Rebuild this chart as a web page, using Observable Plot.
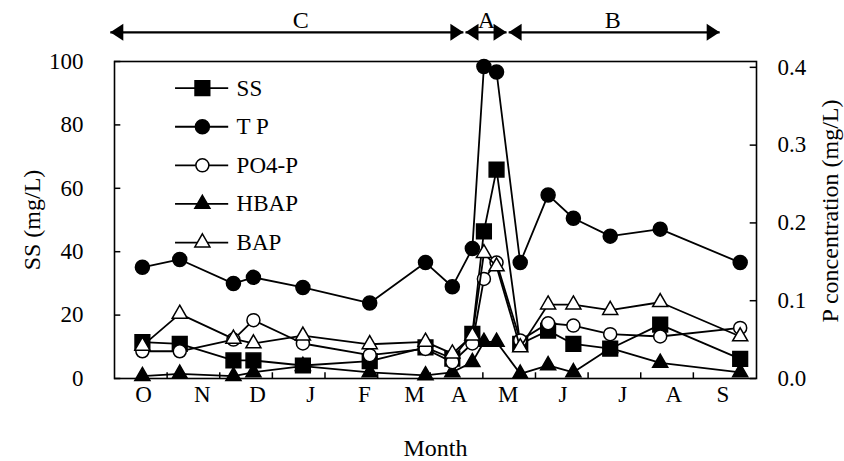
<!DOCTYPE html>
<html>
<head>
<meta charset="utf-8">
<script src="https://cdn.jsdelivr.net/npm/d3@7"></script>
<script src="https://cdn.jsdelivr.net/npm/@observablehq/plot@0.6"></script>
<style>
  html, body { margin: 0; padding: 0; background: #fff; }
  svg { display: block; overflow: visible; }
  svg text { font-family: "Liberation Serif", "Times New Roman", serif !important; }
</style>
</head>
<body>
<div id="chart"></div>
<script>
// ---- data ----
// x positions are in "months since start of October"
const monthLabels = ["O","N","D","J","F","M","A","M","J","J","A","S"];
const monthLabelPos = [0.55,1.67,2.72,3.73,4.75,5.70,6.55,7.48,8.52,9.66,10.63,11.56];
const monthTicks = [1,2,3,4,5,6,7,8,9,10,11];
const ssTicks = [0,20,40,60,80,100];
const pTicks = [0,0.1,0.2,0.3,0.4];

const sampleT = [0.53,1.24,2.26,2.64,3.58,4.85,5.91,6.42,6.80,7.02,7.26,7.71,8.24,8.72,9.42,10.37,11.89];
const ssVals   = [11.5,10.9,5.7,5.7,4.1,5.5,9.8,6.3,14.1,46.4,65.9,10.9,15.1,10.9,9.4,17.0,6.2];
const tpVals   = [0.143,0.153,0.122,0.130,0.117,0.097,0.149,0.118,0.167,0.401,0.394,0.149,0.236,0.206,0.183,0.192,0.149];
const po4Vals  = [0.035,0.035,0.050,0.075,0.045,0.030,0.038,0.021,0.045,0.128,0.149,0.049,0.071,0.068,0.057,0.054,0.065];
const hbapVals = [0.003,0.006,0.003,0.008,0.016,0.008,0.004,0.008,0.021,0.047,0.047,0.006,0.017,0.008,0.039,0.020,0.008];
const bapVals  = [0.042,0.083,0.051,0.045,0.055,0.044,0.047,0.032,0.055,0.161,0.144,0.040,0.095,0.095,0.088,0.098,0.054];

const periodLabels = ["C","A","B"];
const periodStart  = [-0.08, 6.67, 7.49];
const periodEnd    = [6.63, 7.45, 11.5];
const periodLabelAt = [3.54, 7.07, 9.47];

const seriesNames = ["SS","T P","PO4-P","HBAP","BAP"];

// ---- helpers ----
const K = 245.4; // P concentration (mg/L) -> SS axis units (right axis scale)
const FONT = "Liberation Serif";

const rows = sampleT.map((t, i) => ({
  t,
  SS: ssVals[i],
  TP: tpVals[i] * K,
  PO4: po4Vals[i] * K,
  HBAP: hbapVals[i] * K,
  BAP: bapVals[i] * K
}));

const styleOf = {
  "SS":    {key: "SS",   symbol: "square",   fill: "black", r: 8.3},
  "T P":   {key: "TP",   symbol: "circle",   fill: "black", r: 7},
  "PO4-P": {key: "PO4",  symbol: "circle",   fill: "white", r: 6.5},
  "HBAP":  {key: "HBAP", symbol: "triangle", fill: "black", r: 5.6},
  "BAP":   {key: "BAP",  symbol: "triangle", fill: "white", r: 5.6}
};
const drawOrder = ["HBAP","SS","T P","PO4-P","BAP"];

const periods = periodLabels.map((label, i) => ({
  label, start: periodStart[i], end: periodEnd[i], at: periodLabelAt[i]
}));

const leftHead = {draw(ctx) { ctx.moveTo(0,0); ctx.lineTo(13,-8.5); ctx.lineTo(13,8.5); ctx.closePath(); }};
const rightHead = {draw(ctx) { ctx.moveTo(0,0); ctx.lineTo(-13,-8.5); ctx.lineTo(-13,8.5); ctx.closePath(); }};

const ARROW_Y = 109.2;   // in SS units, above the frame
const legend = seriesNames.map((name, i) => ({name, y: 91.6 - i * 12.18}));
const LEG_X1 = 1.16, LEG_X2 = 2.17, LEG_M = 1.67, LEG_T = 2.32;

const labelByPos = new Map(monthLabelPos.map((p, i) => [p, monthLabels[i]]));

const marks = [
  Plot.frame({stroke: "black", strokeWidth: 1.6}),
  // inward ticks
  Plot.ruleY(ssTicks, {y: d => d, x1: 0, x2: 0.12, stroke: "black", strokeWidth: 1.5}),
  Plot.ruleY(pTicks, {y: d => d * K, x1: 12.08, x2: 12.2, stroke: "black", strokeWidth: 1.5}),
  Plot.ruleX(monthTicks, {x: d => d, y1: 0, y2: 1.8, stroke: "black", strokeWidth: 1.5}),
  // axes labels
  Plot.axisY({anchor: "left", ticks: ssTicks, tickSize: 0, tickPadding: 31, label: null,
              fontSize: 23, fontFamily: FONT, fontVariant: "normal"}),
  Plot.axisY({anchor: "right", ticks: pTicks.map(p => p * K), tickFormat: d => (d / K).toFixed(1),
              tickSize: 0, tickPadding: 21, label: null, fontSize: 23, fontFamily: FONT, fontVariant: "normal"}),
  Plot.axisX({anchor: "bottom", ticks: monthLabelPos, tickFormat: d => labelByPos.get(d),
              tickSize: 0, tickPadding: 7, label: null, fontSize: 23, fontFamily: FONT}),
  Plot.text(["Month"], {frameAnchor: "bottom", textAnchor: "middle", lineAnchor: "middle",
                        dy: 70, fontSize: 24, fontFamily: FONT}),
  Plot.text(["SS (mg/L)"], {frameAnchor: "left", textAnchor: "middle", lineAnchor: "middle",
                            dx: -82, rotate: -90, fontSize: 24, fontFamily: FONT}),
  Plot.text(["P concentration (mg/L)"], {frameAnchor: "right", textAnchor: "middle", lineAnchor: "middle",
                                         dx: 74, dy: -9, rotate: -90, fontSize: 24, fontFamily: FONT}),
];

// data series
for (const name of drawOrder) {
  const s = styleOf[name];
  marks.push(Plot.line(rows, {x: "t", y: s.key, stroke: "black", strokeWidth: 1.8}));
  marks.push(Plot.dot(rows, {x: "t", y: s.key, symbol: s.symbol, r: s.r, fill: s.fill,
                             stroke: "black", strokeWidth: 1.5}));
}

// legend
marks.push(Plot.ruleY(legend, {y: "y", x1: LEG_X1, x2: LEG_X2, stroke: "black", strokeWidth: 1.8}));
for (const name of seriesNames) {
  const s = styleOf[name];
  marks.push(Plot.dot(legend.filter(d => d.name === name), {x: LEG_M, y: "y", symbol: s.symbol, r: s.r,
                      fill: s.fill, stroke: "black", strokeWidth: 1.5}));
}
marks.push(Plot.text(legend, {x: LEG_T, y: "y", text: "name", textAnchor: "start", fontSize: 23, fontFamily: FONT}));

// period arrows
marks.push(Plot.link(periods, {x1: "start", x2: "end", y1: ARROW_Y, y2: ARROW_Y, stroke: "black", strokeWidth: 2.2}));
marks.push(Plot.dot(periods, {x: "start", y: ARROW_Y, symbol: leftHead, r: 5, fill: "black", stroke: "none"}));
marks.push(Plot.dot(periods, {x: "end", y: ARROW_Y, symbol: rightHead, r: 5, fill: "black", stroke: "none"}));
marks.push(Plot.text(periods, {x: "at", y: ARROW_Y, text: "label", dy: -12, fontSize: 24, fontFamily: FONT}));

const chart = Plot.plot({
  width: 844,
  height: 461,
  marginLeft: 114,
  marginRight: 88,
  marginTop: 61,
  marginBottom: 83,
  style: {fontFamily: FONT, fontSize: "22px", color: "black", background: "white"},
  x: {domain: [0, 12.2], axis: null},
  y: {domain: [0, 100], axis: null},
  marks
});
document.getElementById("chart").appendChild(chart);
</script>
</body>
</html>
